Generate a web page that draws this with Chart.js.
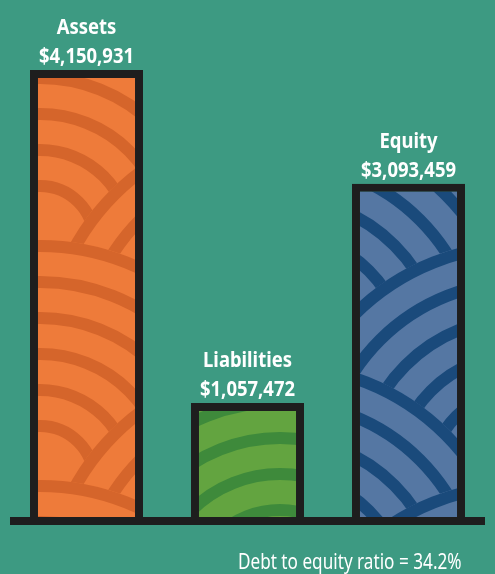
<!DOCTYPE html>
<html>
<head>
<meta charset="utf-8">
<script src="https://cdn.jsdelivr.net/npm/chart.js@4"></script>
<style>
  html, body { margin: 0; padding: 0; background: #3d9a82; }
  #wrap { position: relative; width: 495px; height: 574px; }
  #ratio {
    position: absolute; right: 33px; top: 549px;
    font: 21px "Noto Sans", sans-serif;
    color: #fff; line-height: 24px; white-space: nowrap;
    transform-origin: right center;
  }
</style>
</head>
<body>
<div id="wrap">
  <canvas id="chart" width="495" height="574"></canvas>
  <div id="ratio"></div>
</div>
<script>
const categories = ["Assets", "Liabilities", "Equity"];
const amounts = [4150931, 1057472, 3093459];
const lightColors = ["#ee7b3a", "#63a440", "#5577a3"];
const darkColors = ["#d5652b", "#3e8a3b", "#1a4a7b"];
const ratioText = "Debt to equity ratio = 34.2%";

// condensed look: squeeze the text horizontally
const ratioDiv = document.getElementById("ratio");
ratioDiv.textContent = ratioText;
ratioDiv.style.transform = "scaleX(" + (224 / ratioDiv.offsetWidth) + ")";

const canvas = document.getElementById("chart");
const ctx = canvas.getContext("2d");

// seigaiha style wave pattern, drawn over the whole canvas
function wavePattern(light, dark) {
  const c = document.createElement("canvas");
  c.width = canvas.width;
  c.height = canvas.height;
  const g = c.getContext("2d");
  g.fillStyle = light;
  g.fillRect(0, 0, c.width, c.height);
  const R = 240, step = 36, lw = 12;
  for (let row = -1; row * R / 2 < c.height + R; row++) {
    const y = row * R / 2;
    const off = Math.abs(row % 2) ? R : 0;
    for (let x = -2 * R + off + 40; x < c.width + 2 * R; x += 2 * R) {
      g.beginPath();
      g.arc(x, y, R, 0, Math.PI * 2);
      g.fillStyle = light;
      g.fill();
      g.strokeStyle = dark;
      g.lineWidth = lw;
      for (let r = R - lw / 2; r > 20; r -= step) {
        g.beginPath();
        g.arc(x, y, r, 0, Math.PI * 2);
        g.stroke();
      }
    }
  }
  return ctx.createPattern(c, "no-repeat");
}

const fmt = (v) => "$" + v.toLocaleString("en-US");

const labelPlugin = {
  id: "barLabels",
  afterDatasetsDraw(chart) {
    const c = chart.ctx;
    const meta = chart.getDatasetMeta(0);
    const y0 = chart.scales.y.getPixelForValue(0);
    // baseline
    c.save();
    c.fillStyle = "#1e1e1e";
    c.fillRect(chart.chartArea.left + 4, y0, chart.chartArea.width - 8, 8);
    c.fillStyle = "#fff";
    c.textAlign = "center";
    c.textBaseline = "alphabetic";
    c.font = "bold 22px 'Noto Sans', sans-serif";
    const k = 95 / c.measureText(fmt(amounts[0])).width;
    meta.data.forEach((bar, i) => {
      c.save();
      c.translate(bar.x, 0);
      c.scale(k, 1);
      c.fillText(categories[i], 0, bar.y - 36);
      c.fillText(fmt(amounts[i]), 0, bar.y - 7);
      c.restore();
    });
    c.restore();
  }
};

new Chart(canvas, {
  type: "bar",
  data: {
    labels: categories,
    datasets: [{
      data: amounts,
      backgroundColor: lightColors.map((l, i) => wavePattern(l, darkColors[i])),
      borderColor: "#1e1e1e",
      borderWidth: 8,
      borderSkipped: "bottom",
      categoryPercentage: 1,
      barPercentage: 0.702
    }]
  },
  options: {
    responsive: false,
    animation: false,
    layout: { padding: { left: 6, right: 6, top: 0, bottom: 57 } },
    scales: {
      x: { display: false },
      y: { display: false, min: 0, max: 4800000 }
    },
    plugins: {
      legend: { display: false },
      tooltip: { enabled: false }
    }
  },
  plugins: [labelPlugin]
});
</script>
</body>
</html>
